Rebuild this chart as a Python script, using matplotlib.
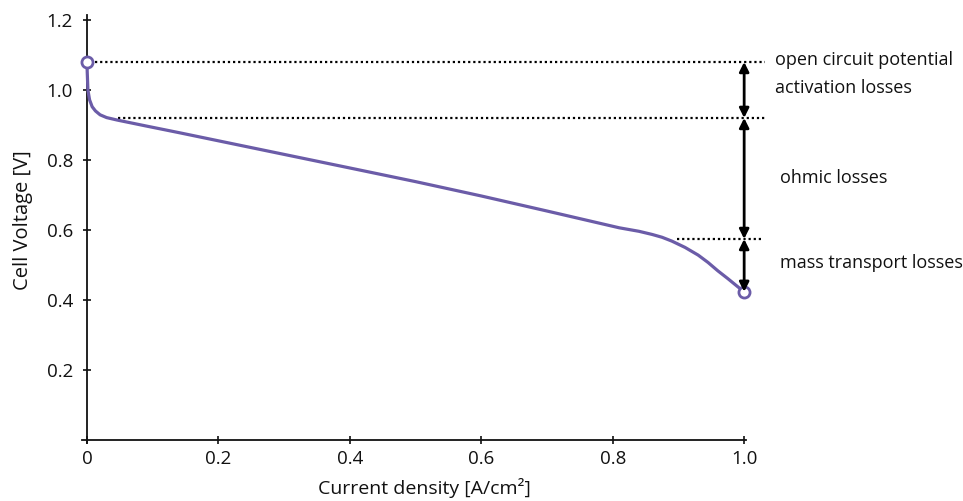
import matplotlib
matplotlib.use("Agg")
import matplotlib.pyplot as plt

# polarization curve, read point by point
current = [0.0, 0.0005, 0.0015, 0.004, 0.008, 0.013, 0.02, 0.03, 0.046, 0.09,
           0.14, 0.23, 0.4, 0.5, 0.6, 0.7, 0.81, 0.84, 0.86, 0.875, 0.89,
           0.91, 0.93, 0.945, 0.96, 0.975, 0.99, 1.0]
voltage = [1.08, 1.05, 1.0, 0.972, 0.952, 0.94, 0.929, 0.921, 0.914, 0.897,
           0.878, 0.843, 0.777, 0.738, 0.697, 0.654, 0.606, 0.596, 0.587, 0.579, 0.568,
           0.55, 0.528, 0.507, 0.483, 0.461, 0.438, 0.423]

# loss levels [V]
v_ocp = 1.08
v_act = 0.92
v_mass = 0.574
v_end = 0.423

x_ticks = [0, 0.2, 0.4, 0.6, 0.8, 1.0]
x_tick_labels = ["0", "0.2", "0.4", "0.6", "0.8", "1.0"]
y_ticks = [0.2, 0.4, 0.6, 0.8, 1.0, 1.2]
y_tick_labels = ["0.2", "0.4", "0.6", "0.8", "1.0", "1.2"]

CURVE = "#6b5ca8"
INK = "#111111"

plt.rcParams["font.family"] = ["Open Sans", "DejaVu Sans"]

fig = plt.figure(figsize=(9.63, 5.01), dpi=100, facecolor="white")
ax = fig.add_axes([0.0848, 0.1158, 0.690, 0.8548])
ax.set_xlim(-0.008, 1.003)
ax.set_ylim(-0.009, 1.215)

# axes crossing at the origin
for side in ("top", "right"):
    ax.spines[side].set_visible(False)
ax.spines["left"].set_position(("data", 0))
ax.spines["bottom"].set_position(("data", 0))
for side in ("left", "bottom"):
    ax.spines[side].set_linewidth(1.3)
    ax.spines[side].set_color(INK)

ax.set_xticks(x_ticks)
ax.set_xticklabels(x_tick_labels)
ax.set_yticks(y_ticks)
ax.set_yticklabels(y_tick_labels)
ax.tick_params(direction="inout", length=6, width=1.2, labelsize=13.5,
               colors=INK)
ax.tick_params(axis="x", pad=4)
ax.tick_params(axis="y", pad=7)

ax.plot(current, voltage, color=CURVE, lw=2.3, solid_capstyle="round",
        solid_joinstyle="round", zorder=3)
ax.plot([current[0], current[-1]], [voltage[0], voltage[-1]], ls="none",
        marker="o", ms=8, mfc="white", mec=CURVE, mew=2, zorder=4, clip_on=False)

# dotted reference levels
dot = dict(color="black", lw=1.6, ls=(0, (1, 1.3)), clip_on=False, zorder=2)
ax.plot([0.012, 1.032], [v_ocp, v_ocp], **dot)
ax.plot([0.047, 1.032], [v_act, v_act], **dot)
ax.plot([0.898, 1.027], [v_mass, v_mass], **dot)

# double-headed loss arrows
for lo, hi in [(v_act, v_ocp), (v_mass, v_act), (v_end, v_mass)]:
    ax.annotate("", xy=(1.0, hi), xytext=(1.0, lo),
                arrowprops=dict(arrowstyle="<|-|>", color="black", lw=2,
                                mutation_scale=14, shrinkA=0, shrinkB=0),
                annotation_clip=False, zorder=5)

txt = dict(fontsize=13, color=INK, va="center", ha="left", clip_on=False)
ax.text(1.047, 1.086, "open circuit potential", **txt)
ax.text(1.047, 1.006, "activation losses", **txt)
ax.text(1.055, 0.749, "ohmic losses", **txt)
ax.text(1.055, 0.506, "mass transport losses", **txt)

ax.set_xlabel("Current density [A/cm²]", fontsize=14, color=INK)
ax.set_ylabel("Cell Voltage [V]", fontsize=14.5, color=INK)
ax.xaxis.set_label_coords(0.516, -0.081)
ax.yaxis.set_label_coords(-0.073, 0.52)

fig.savefig("out.png", dpi=100, facecolor="white")
